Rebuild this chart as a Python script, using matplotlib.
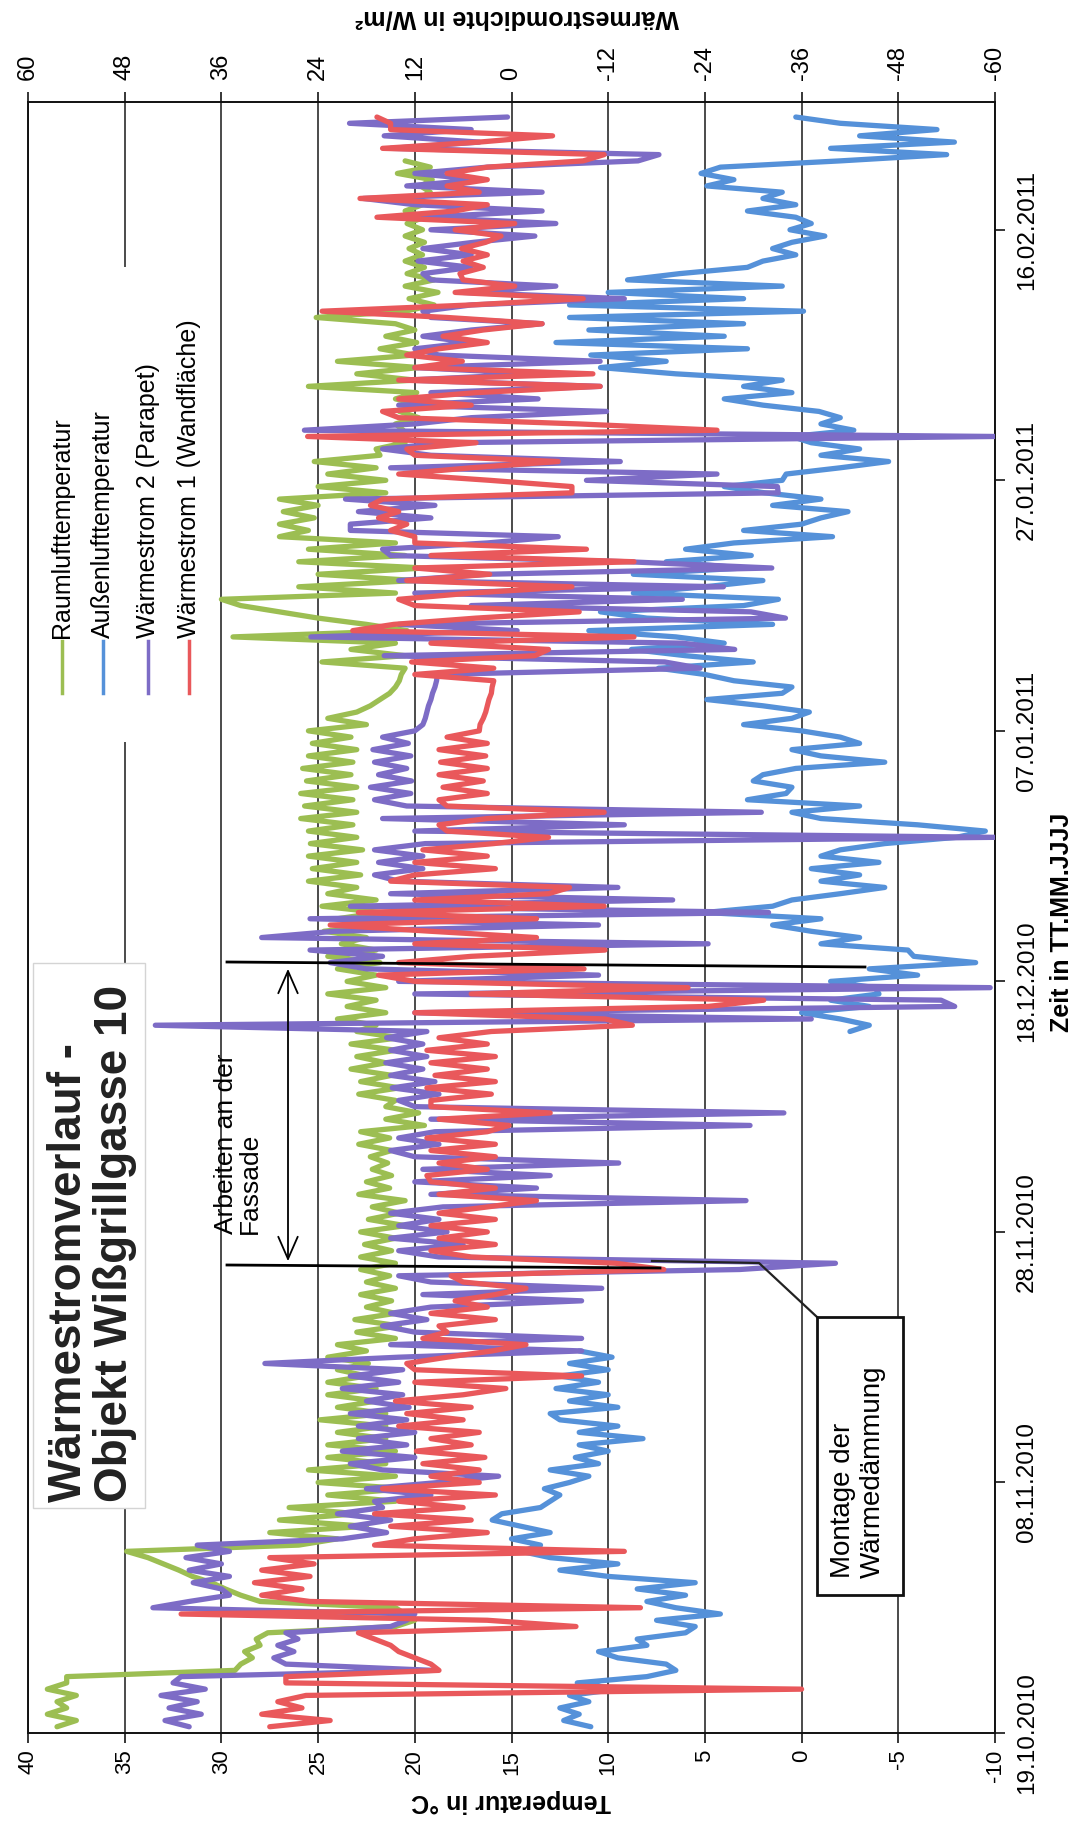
import matplotlib
matplotlib.use('Agg')
import matplotlib.pyplot as plt
from matplotlib.patches import Rectangle, FancyArrowPatch
from matplotlib.lines import Line2D
from datetime import datetime, timedelta

plt.rcParams['font.family'] = ['Liberation Sans', 'DejaVu Sans']
nan = float('nan')

# ---------------- data ----------------
start_date = '19.10.2010'
sample_step_hours = 12
date_tick_labels = ['19.10.2010', '08.11.2010', '28.11.2010', '18.12.2010',
                    '07.01.2011', '27.01.2011', '16.02.2011']
temp_ticks = [-10, -5, 0, 5, 10, 15, 20, 25, 30, 35, 40]
flux_ticks = [-60, -48, -36, -24, -12, 0, 12, 24, 36, 48, 60]
series_names = ['Raumlufttemperatur', 'Außenlufttemperatur',
                'Wärmestrom 2 (Parapet)', 'Wärmestrom 1 (Wandfläche)']

# Raumlufttemperatur (°C), two readings per day
raum = [38.5, 37.5, 39, 38, 38.5, 37.5, 39, 38, 38, 29.3, 29, 28.4, 28.8, 28, 28.2, 27.6,
        21, 20, 20.5, 21, 28, 29, 29.8, 30.5, 31.5, 32.2, 33, 33.8, 34.9, 26,
        24, 27.5, 22.5, 27, 23, 26.5, 21, 24.5, 20.5, 25,
        21, 25.5, 21.5, 24.5, 21, 24.5, 21.5, 24, 21.5, 24.9, 21.5, 24, 22, 24.5,
        22, 24.5, 22.5, 24, 22.4, 24.5, 22.5, 24, 21, 23, 20.8, 23.1, 21, 22.5,
        21.2, 22.8, 21, 22.5, 21.3, 22.8, 21, 22.8, 21.2, 22.6, 21, 22.8,
        20.5, 22.4, 20.8, 22.2, 20.5, 22.9, 21.3, 22.5, 21.2, 22.2, 21.4, 22.3,
        21.2, 22.9, 21.3, 22.8, 19.5, 21.5, 19.8, 21.5, 21, 22.9, 20.8, 22.8,
        21.2, 23.3, 21.5, 23, 21, 23.3, 20.8, 23,
        22, 24, 21.5, 23.5, 22, 24.5, 21.5, 23.5, 22, 24, 21.8, 24.5, 22, 23.8,
        22.5, 24.7, 21.8, 24, 21.8, 24.8, 22, 24.5,
        23, 25.5, 22.8, 25.3, 23, 25.5, 22.7, 25.4, 23, 25.5,
        23.2, 25.9, 23, 25.7, 23.2, 25.9, 23, 25.6, 23.3, 25.8,
        23.2, 25.5, 23, 25.3, 23.3, 25.5, 22.5, 24.5, 23, 22.3, 21.8, 21.3,
        21, 20.8, 20.7, 20.5, 24.8, 20.5, 23.3, 21, 29.4, 20.4, 22.5, 25, 27, 29, 30, 21,
        26, 20, 25, 19.5, 26, 20.5, 25.5, 21, 27, 25.5, 27, 25.2, 26.8, 25, 27, 21.5,
        25, 21.5, 24.5, 22, 25.2, 21.8, 22, 20.5, 21.8, 20.6,
        21, 19.8, 20.8, 19.7, 21, 19.9, 25.5, 20, 23, 19.8, 24, 20,
        21.8, 19.9, 21.5, 20, 21, 25.1, 20.5, 19, 20.3, 18.8, 20.5, 19,
        20.4, 19.5, 20.5, 19.6, 20.3, 19.5, 20.5, 19.6, 20.4, 19.5, 20.5, 19.6,
        19.8, 19.2, 19.7, 19.1, 20.9, 19.2, 20.5, nan, nan, nan, nan, nan, nan, nan]

# Außenlufttemperatur (°C)
aussen = [10.9, 12.3, 11.5, 12.5, 11, 12, 9.5, 11.6, 8, 6.5, 7, 9.5, 10.5, 8, 8.5, 6,
          5.5, 7.5, 4.2, 6.5, 8, 6, 8.5, 5.5, 10, 12.5, 9.5, 13, 14.5, 13.5,
          15, 13, 14.5, 16, 15.5, 13.5, 13, 12.5, 13.3, 12,
          11, 13, 10.5, 11.7, 10, 11.5, 8.2, 11.5, 9.5, 12.5, 13, 9.5, 12, 10,
          12.7, 10.5, 12.5, 10, 12, 9.8, 11.5, nan,
          nan, nan, nan, nan, nan, nan, nan, nan, nan, nan, nan, nan,
          nan, nan, nan, nan, nan, nan, nan, nan, nan, nan, nan, nan,
          nan, nan, nan, nan, nan, nan, nan, nan, nan, nan, nan, nan,
          nan, nan, nan, nan, nan, nan, nan, nan, nan, nan, nan, nan,
          nan, -2.5, -3.5, -2, 0, -3.5, -1.5, -4, -3.8, -1.5, -6, -3.5, -9, -5.8,
          -5.5, -1, -3, -0.5, 1.5, -1, 5, 1.5, 0.5, -2, -4.3, -1, -3, -0.5,
          -4, -1, -2, -4.3, -8, -9.5, -6, -1, 0.5, -3, 2.8, 0.8, 0.5, 2.5, 2, 0.3,
          -4.3, -1, 0.5, -3, -2, 0, 3, 0.5, -0.4, 2, 4.9, 1, 0.5, 3.5,
          5, 7.4, 2.5, 6, 8.8, 4, 6.5, 11, 1.5, 8, 10.4, 3, 1.2, 8.7, 5, 2,
          8.7, 3, 7, 2.6, 6, 3.5, -1.6, 3, 0, -1, -2.4, 1.5, -1, 1.9, 4, 1,
          0.8, -2, -4.5, -1, -3, -0.5, 0.5, -2.7, -1, -2, -0.9, 2, 4, 0.5, 3, 1,
          6.5, 10.4, 7, 10.9, 2.8, 12.7, 4, 11, 3, 12, -0.1, 12, 3, 10, 1, 9,
          6.3, 2.8, 2, 0.3, 1.5, 0.5, -1.2, 0.6, -0.5, 0.3, 2.8, 0.3, 2, 1,
          4.9, 3.5, 5.2, 4.2, -2, -7.5, -1.5, -7.9, -3, -7, -2, 0.3]

# Wärmestrom 2 (Parapet), W/m²
parapet = [40, 43, 38.5, 42.5, 39, 43.5, 38, 42, 41, 9.7, 28, 29.5, 27, 29, 26.5, 28,
           15, 13, 12, 44.5, 40, 35, 36, 39.5, 35, 40, 36, 40.4, 35, 39,
           21, 15.5, 20, 15, 21.6, 16, 17, 10, 18, 9,
           1.6, 16, 20, 12, 21, 13, 19, 12, 19, 13, 20, 12.7, 18, 13.5,
           21, 14, 20, 13.5, 30.6, 14, -8.7, 15, -8.7, 12, 16, 10.5, 15, 10,
           -8.7, 11, -11.2, 10, 14, -28.3, -40.2, 9, 14, 6, 15, 8,
           14, 9, 15, 8.5, -29.1, 10, -3.1, 12, -4.8, 11, -13.3, 12,
           15, 9, 14, 9.5, -29.6, 10, -33.8, 12, 14, 9, 14.8, 9.5,
           15, 11, 15.6, 10.5, 15, 11, 15.5, 10.5,
           44.2, -37.2, 12, -55, -53.3, 12, -59.4, 14, -10.8, 18, 22.5, 16,
           25, -24.4, 31, 22, -10.8, 25, -31.9, 20, -20, 15, -13.2, 14,
           17, 11, 16.5, 11, 17, 10.7, -60, 12, -14, 16, -31, 13,
           17, 12.5, 17.5, 12.4, 16.5, 13, 17, 12.5, 17.2, 12.8, 16, 12,
           11, 10.7, 10.5, 10.3, 10, 9.8, 9.5, 9.3, 9.2, -23.4, -19, 15.8,
           -27.7, -21.2, 24.9, -0.7, 14, -34, -29.7, 5, -21.2, 12, -26.3, 14,
           3, -32.3, -14.4, 15, 16, 3, -5.8, 20, 20, 10, 19, 9.5, 20.6, -33.1,
           -33, -9.3, -25.5, 15, -13.5, 10, 16, 8, -60, 25.7, 12, 5,
           -11.8, 14, -3.3, 10, -11, 13, -3.3, 12, -11, 9,
           12, 5, 11, 5, -3.8, 10, 11, 5, -14, 6, -5.5, 10, 11, 5, 11.6, 5, 11, 4.7,
           -2.9, 10, -5.5, 11, -3.8, 12, 18.4, -3.8, 13, 4, 12, 3, -15.7, -18.3,
           15, 4, 15.8, 5, 20.1, 0.5]

# Wärmestrom 1 (Wandfläche), W/m²
wand = [30, 22.5, 31, 26, 29, 25.5, -36, 28, 28, 9, 10, 12, 14, 15, 17, 19,
        -8, 3, 41, -16, 25, 31, 26, 31.9, 25, 31, 24.5, 30, -14, 17,
        12, 3, 15, 5, 17, 6, 14, 2, 16, 4,
        10, 4, 11, 3.3, 11.8, 5, 10, 4, 14, 6, 13, 5, 14.4, 6,
        0.7, 12, -8.7, 12, 13, 8, 2.4, -1.8, 11, 8, 9, 2, 10, 3,
        7, 2, -1.8, 6, 7.5, -18.9, -12.9, 5, 10, 2, 9, 3,
        10, 2, 9, 3, -3.1, 9, 2, 10, 10.5, 3, 9, 2,
        10, 2, 10.5, 3, 0.3, 9, -4.8, 10, 10, 2.5, 10.5, 2,
        9.5, 3, 10, 2, 10.5, 3, 9, 2.5,
        -15, -11.6, 12, -24.4, -31.3, 5, -21.9, 12, 16.5, -9, 14, 5,
        -11.6, 12, -3.1, 10, 22.5, -3.1, 19, -11.5, 12, -4.6, -7.2, 15,
        12, 2, 12, 3, 11, 2.2, -4.6, 8, 9, 3, -11.5, 8,
        9, 3, 8.5, 3.5, 9, 3, 8.8, 3.2, 9, 3, 8, 4,
        3.9, 3.5, 3.2, 3, 2.8, 2.5, 2.4, 2.2, 12, 2.2, 12.4, -2.9,
        -4.6, 10, -15.2, 19.7, 14.6, 4.4, -8.4, 12, 14, 5, -7.5, 13,
        2.7, 12, -15.2, 10, -9.3, 12, 12, 15, 13, 16.5, 14, 17.5, 16, -7.5,
        -7.5, 2.7, 14, 5, -5.8, 12, 13, 4.4, 25.3, -25.5, -8.4, 14,
        16, 5, 14, 4.4, -11, 14, -10.1, 12, 6.1, 13,
        9, 3, 8.5, 3.5, -3.8, 8, 23.5, 5, -8.9, 7, -0.4, 6, 6.4, 3.5, 6, 3, 6.2, 3.2,
        1.3, 7, -0.4, 16.7, 7, 3, 18.8, 4, 8, 3, 8, 3, -8.9, -11.5,
        16, 4, -5.1, 15, 15, 16.7]

# ---------------- figure ----------------
W, H = 1077, 1829
def fx(px):
    return px / W
def fy(py):
    return 1 - py / H

c_green = '#9CBE52'
c_blue = '#5591D9'
c_purple = '#7D6CC6'
c_red = '#E9585B'
series_colors = [c_green, c_blue, c_purple, c_red]

t0 = datetime.strptime(start_date, '%d.%m.%Y')
times = [t0 + timedelta(hours=sample_step_hours * (k + 1)) for k in range(len(raum))]

fig = plt.figure(figsize=(W / 100, H / 100), dpi=100)
fig.patch.set_facecolor('white')
ax = fig.add_axes([fx(28), fy(1733), fx(995) - fx(28), fy(102) - fy(1733)])
ax.set_xlim(40, -10)
ax.set_ylim(t0, t0 + timedelta(days=130.2))
ax2 = ax.twiny()
ax2.set_xlim(60, -60)

lw = 3.8
kw = dict(lw=lw, solid_capstyle='round', solid_joinstyle='round')
ax.plot(raum, times, color=c_green, zorder=3, **kw)
ax.plot(aussen, times, color=c_blue, zorder=4, **kw)
ax2.plot(parapet, times, color=c_purple, zorder=3, **kw)
ax2.plot(wand, times, color=c_red, zorder=4, **kw)

# grid + axes
ax.set_xticks(temp_ticks)
ax.set_xticklabels([str(v) for v in temp_ticks])
ax.grid(axis='x', color='#1a1a1a', lw=1.1)
ax.grid(axis='y', visible=False)
ax.tick_params(axis='x', bottom=True, top=False, direction='out', length=7, width=1.1,
               labelsize=16, labelrotation=90, pad=5)

ax2.set_xticks(flux_ticks)
ax2.set_xticklabels([str(v) for v in flux_ticks])
ax2.tick_params(axis='x', top=True, bottom=False, direction='out', length=7, width=1.1,
                labelsize=17, labelrotation=90, pad=9)

date_ticks = [datetime.strptime(s, '%d.%m.%Y') for s in date_tick_labels]
ax.yaxis.tick_right()
ax.set_yticks(date_ticks)
ax.set_yticklabels(date_tick_labels)
ax.tick_params(axis='y', right=True, left=False, direction='out', length=7, width=1.1,
               labelsize=17.5, pad=8)
for lab in ax.get_yticklabels():
    lab.set_rotation(90)
    lab.set_va('center')
    lab.set_ha('left')

for a in (ax, ax2):
    for s in a.spines.values():
        s.set_color('#111111')
        s.set_linewidth(1.2)

# axis titles
fig.text(fx(511), fy(1801), 'Temperatur in °C', rotation=180, ha='center', va='center',
         fontsize=18, fontweight='bold')
fig.text(fx(517), fy(18), 'Wärmestromdichte in W/m²', rotation=180, ha='center', va='center',
         fontsize=18, fontweight='bold')
fig.text(fx(1062), fy(922), 'Zeit in TT.MM.JJJJ', rotation=90, ha='center', va='center',
         fontsize=18, fontweight='bold')

# title box
fig.add_artist(Rectangle((fx(33), fy(1508)), fx(145) - fx(33), fy(963) - fy(1508),
                         transform=fig.transFigure, facecolor='white', edgecolor='#d4d4d4',
                         lw=1.0, zorder=5))
fig.text(fx(92), fy(1502), 'Wärmestromverlauf -\nObjekt Wißgrillgasse 10', rotation=90,
         ha='center', va='bottom', multialignment='left', fontsize=33, fontweight='bold',
         linespacing=1.07, color='#222222', zorder=6)

# legend (rotated)
fig.add_artist(Rectangle((fx(30), fy(742)), fx(215) - fx(30), fy(267) - fy(742),
                         transform=fig.transFigure, facecolor='white', edgecolor='none', zorder=5))
leg_x = [62, 103, 148, 189]
for name, col, xp in zip(series_names, series_colors, leg_x):
    fig.add_artist(Line2D([fx(xp), fx(xp)], [fy(693), fy(641)], transform=fig.transFigure,
                          color=col, lw=2.5, zorder=6))
    fig.text(fx(xp), fy(638), name, rotation=90, ha='center', va='bottom', fontsize=18, zorder=6)

# annotation: Arbeiten an der Fassade
fig.add_artist(Line2D([fx(227), fx(865)], [fy(962), fy(967)], transform=fig.transFigure,
                      color='black', lw=2.0, zorder=7))
fig.add_artist(Line2D([fx(227), fx(660)], [fy(1265), fy(1268)], transform=fig.transFigure,
                      color='black', lw=2.0, zorder=7))
fig.add_artist(FancyArrowPatch((fx(288), fy(966)), (fx(288), fy(1264)), transform=fig.transFigure,
                               arrowstyle='<->,head_length=0.8,head_width=0.35', mutation_scale=20,
                               lw=1.3, color='black', zorder=7))
fig.text(fx(214), fy(1234), 'Arbeiten an der\nFassade', rotation=90, ha='left', va='bottom',
         multialignment='left', fontsize=19, linespacing=1.0, zorder=7)

# callout: Montage der Wärmedämmung
fig.add_artist(Line2D([fx(652), fx(759), fx(817)], [fy(1261), fy(1263), fy(1317)],
                      transform=fig.transFigure, color='#222222', lw=1.6, zorder=7))
fig.add_artist(Rectangle((fx(817), fy(1595)), fx(903) - fx(817), fy(1317) - fy(1595),
                         transform=fig.transFigure, facecolor='white', edgecolor='#111111',
                         lw=2.0, zorder=7))
fig.text(fx(858), fy(1578), 'Montage der\nWärmedämmung', rotation=90, ha='center', va='bottom',
         multialignment='left', fontsize=20, linespacing=1.15, zorder=8)

fig.savefig('out.png', dpi=100, facecolor='white')
